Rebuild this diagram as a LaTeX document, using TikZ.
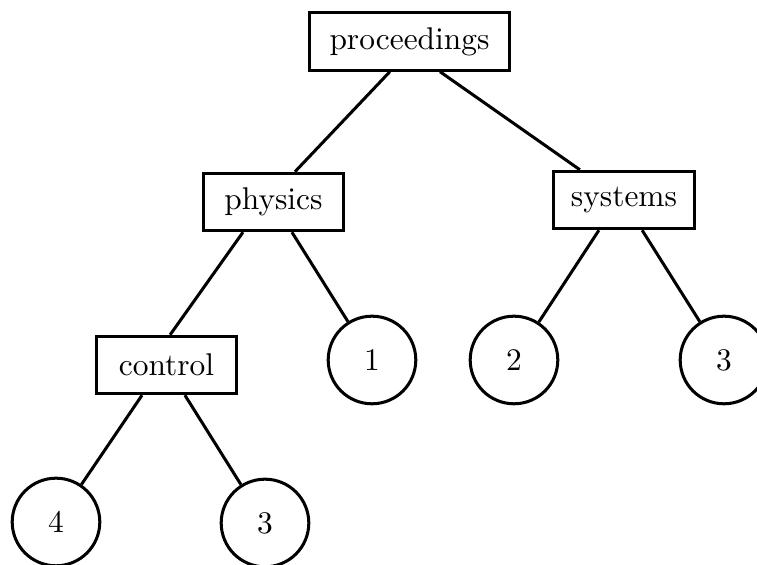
\documentclass[tikz,border=0pt]{standalone}
\begin{document}
\begin{tikzpicture}[x=0.331pt, y=-0.331pt, line width=1pt,
  font=\fontsize{10.4}{12}\selectfont,
  term/.style={draw, rectangle, minimum width=46.5pt, minimum height=19pt, inner sep=2pt},
  leaf/.style={draw, circle, minimum size=29pt, inner sep=0pt}]
\useasboundingbox (0,0) rectangle (757,565);

% Root
\node[term, minimum width=66.5pt] (proc) at (409.5,41.5) {proceedings};

% Second level
\node[term] (phys) at (273.5,202) {physics};
\node[term] (sys) at (624,200) {systems};

% Third level
\node[term] (ctrl) at (166.5,365) {control};
\node[leaf] (one) at (372,360) {1};
\node[leaf] (two) at (514,360) {2};
\node[leaf] (threeR) at (724,360) {3};

% Bottom level
\node[leaf] (four) at (56,522) {4};
\node[leaf] (threeB) at (265,523) {3};

% Branches
\draw ([xshift=-6.5pt]proc.south) -- ([xshift=7.1pt]phys.north);
\draw ([xshift=10.1pt]proc.south) -- ([xshift=-14.6pt]sys.north);
\draw ([xshift=-10.1pt]phys.south) -- ([xshift=1.2pt]ctrl.north);
\draw ([xshift=6.1pt]phys.south) -- (one);
\draw ([xshift=-8.3pt]sys.south) -- (two);
\draw ([xshift=6pt]sys.south) -- (threeR);
\draw ([xshift=-8.1pt]ctrl.south) -- (four);
\draw ([xshift=6.1pt]ctrl.south) -- (threeB);

\end{tikzpicture}
\end{document}
